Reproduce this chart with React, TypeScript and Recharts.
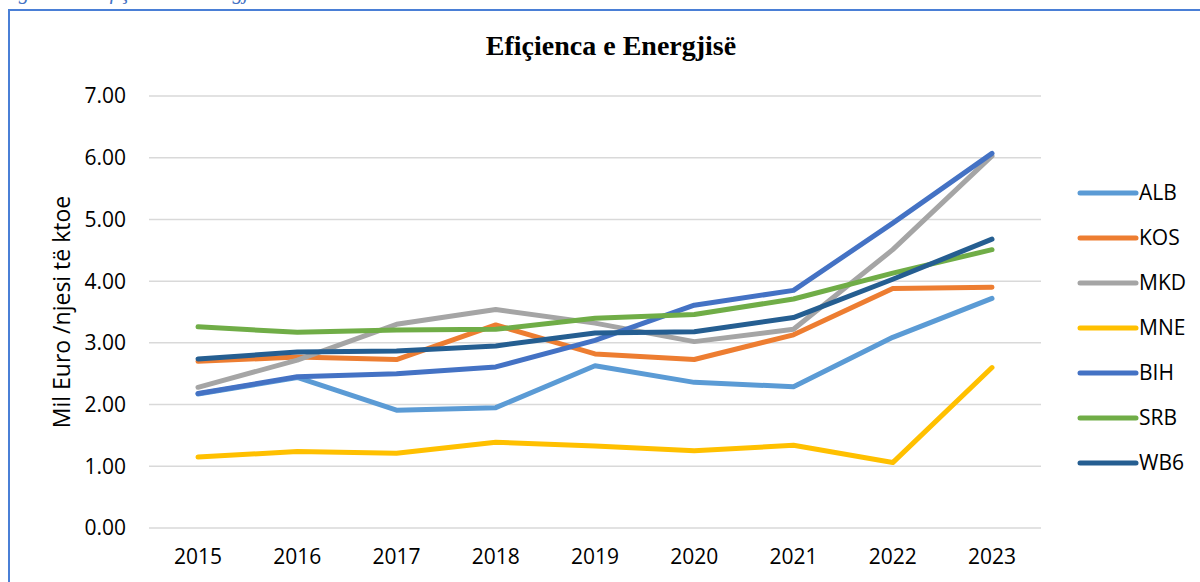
import React from 'react';
import { LineChart, Line, XAxis, YAxis, CartesianGrid, Legend, Label } from 'recharts';

const years = ['2015', '2016', '2017', '2018', '2019', '2020', '2021', '2022', '2023'];
const ALB = [2.17, 2.44, 1.91, 1.95, 2.63, 2.36, 2.29, 3.09, 3.72];
const KOS = [2.7, 2.77, 2.73, 3.29, 2.82, 2.73, 3.13, 3.88, 3.9];
const MKD = [2.28, 2.72, 3.3, 3.54, 3.32, 3.02, 3.22, 4.51, 6.03];
const MNE = [1.15, 1.24, 1.21, 1.39, 1.33, 1.25, 1.34, 1.06, 2.6];
const BIH = [2.18, 2.45, 2.5, 2.61, 3.04, 3.61, 3.85, 4.94, 6.07];
const SRB = [3.26, 3.17, 3.21, 3.22, 3.4, 3.46, 3.71, 4.13, 4.51];
const WB6 = [2.74, 2.85, 2.87, 2.95, 3.16, 3.18, 3.41, 4.03, 4.68];
const yTicks = [0, 1, 2, 3, 4, 5, 6, 7];

const seriesList = [
  { key: 'ALB', values: ALB, color: '#5B9BD5' },
  { key: 'KOS', values: KOS, color: '#ED7D31' },
  { key: 'MKD', values: MKD, color: '#A5A5A5' },
  { key: 'MNE', values: MNE, color: '#FFC000' },
  { key: 'BIH', values: BIH, color: '#4472C4' },
  { key: 'SRB', values: SRB, color: '#70AD47' },
  { key: 'WB6', values: WB6, color: '#255E91' },
];
const seriesOrder = seriesList.map((s) => s.key);

const data = years.map((y, i) => {
  const row: Record<string, string | number> = { year: y };
  seriesList.forEach((s) => {
    row[s.key] = s.values[i];
  });
  return row;
});

const FONT = '"Open Sans", sans-serif';
const FS = 21;

const LegendContent = (props: any) => {
  const payload = [...(props.payload || [])].sort(
    (a: any, b: any) => seriesOrder.indexOf(a.value) - seriesOrder.indexOf(b.value)
  );
  return (
    <svg width={120} height={320} style={{ overflow: 'visible' }}>
      {payload.map((p: any, i: number) => {
        const cy = 16 + i * 45;
        return (
          <g key={p.value}>
            <line x1={4} x2={60} y1={cy} y2={cy} stroke={p.color} strokeWidth={5} strokeLinecap="round" />
            <text x={63} y={cy} dy="0.35em" fontFamily={FONT} fontSize={FS} fill="#000">
              {p.value}
            </text>
          </g>
        );
      })}
    </svg>
  );
};

export default function App() {
  return (
    <div style={{ position: 'fixed', left: 0, top: 0, width: 1200, height: 582, overflow: 'hidden', background: '#fff' }}>
      <div
        style={{
          position: 'absolute',
          left: 0,
          top: -20,
          fontFamily: '"Liberation Serif", serif',
          fontStyle: 'italic',
          fontSize: 21,
          color: '#4472C4',
          whiteSpace: 'nowrap',
        }}
      >
        Figura 14: Efiçienca e energjisë në vendet e Ballkanit Perëndimor
      </div>
      <div
        style={{
          position: 'absolute',
          left: 8,
          top: 9,
          width: 1220,
          height: 620,
          border: '2px solid #4A7FD6',
          boxSizing: 'border-box',
        }}
      />
      <div
        style={{
          position: 'absolute',
          left: 0,
          width: 1222,
          top: 30,
          textAlign: 'center',
          fontFamily: '"Liberation Serif", serif',
          fontWeight: 'bold',
          fontSize: 28,
          color: '#000',
          whiteSpace: 'nowrap',
        }}
      >
        Efiçienca e Energjisë
      </div>
      <div style={{ position: 'absolute', left: 0, top: 0 }}>
        <LineChart width={1200} height={582} data={data} margin={{ top: 96, right: 39, bottom: 24, left: 69 }}>
          <CartesianGrid vertical={false} stroke="#D9D9D9" strokeWidth={1.5} />
          <XAxis
            dataKey="year"
            axisLine={false}
            tickLine={false}
            tickSize={0}
            tickMargin={21}
            padding={{ left: 49, right: 49 }}
            tick={{ fontFamily: FONT, fontSize: FS, fill: '#000' }}
            interval={0}
          />
          <YAxis
            width={80}
            domain={[0, 7]}
            ticks={yTicks}
            axisLine={false}
            tickLine={false}
            tickSize={0}
            tickMargin={23}
            tickFormatter={(v: number) => v.toFixed(2)}
            tick={{ fontFamily: FONT, fontSize: FS, fill: '#000' }}
          >
            <Label
              content={() => (
                <text
                  x={61}
                  y={312}
                  transform="rotate(-90 61 312)"
                  textAnchor="middle"
                  dominantBaseline="central"
                  fontFamily={FONT}
                  fontSize={23}
                  fill="#000"
                >
                  Mil Euro /njesi të ktoe
                </text>
              )}
            />
          </YAxis>
          <Legend
            layout="vertical"
            align="right"
            verticalAlign="top"
            content={<LegendContent />}
            wrapperStyle={{ position: 'absolute', left: 1076, top: 177, width: 120, height: 320 }}
          />
          {seriesList.map((s) => (
            <Line
              key={s.key}
              type="linear"
              dataKey={s.key}
              name={s.key}
              stroke={s.color}
              strokeWidth={5}
              strokeLinecap="round"
              strokeLinejoin="round"
              dot={false}
              activeDot={false}
              isAnimationActive={false}
            />
          ))}
        </LineChart>
      </div>
    </div>
  );
}
